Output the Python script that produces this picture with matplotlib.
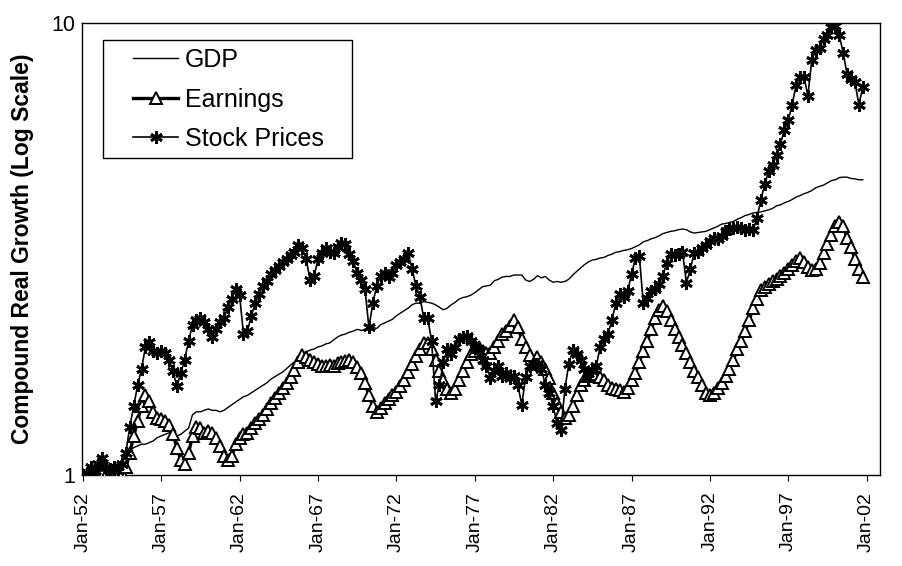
import matplotlib
matplotlib.use("Agg")
import matplotlib.pyplot as plt
from matplotlib.patches import Rectangle
import numpy as np

plt.rcParams['font.family'] = ['Liberation Sans', 'DejaVu Sans']

start_year = 1952
tick_years = [1952, 1957, 1962, 1967, 1972, 1977, 1982, 1987, 1992, 1997, 2002]
tick_labels = ["Jan-52", "Jan-57", "Jan-62", "Jan-67", "Jan-72", "Jan-77",
               "Jan-82", "Jan-87", "Jan-92", "Jan-97", "Jan-02"]

# quarterly values 1952Q1 .. 2001Q4
gdp = [
    1.00, 1.01, 1.02, 1.04,  1.06, 1.07, 1.07, 1.06,  1.05, 1.06, 1.08, 1.10,
    1.13, 1.15, 1.16, 1.17,  1.17, 1.18, 1.19, 1.21,  1.22, 1.23, 1.24, 1.24,
    1.22, 1.23, 1.25, 1.27,  1.36, 1.38, 1.38, 1.39,  1.40, 1.39, 1.39, 1.38,
    1.39, 1.41, 1.43, 1.45,  1.47, 1.49, 1.50, 1.52,  1.54, 1.56, 1.58, 1.60,
    1.63, 1.65, 1.67, 1.69,  1.72, 1.75, 1.78, 1.82,  1.85, 1.87, 1.89, 1.90,
    1.92, 1.93, 1.95, 1.96,  1.99, 2.02, 2.04, 2.05,  2.07, 2.08, 2.10, 2.09,
    2.09, 2.10, 2.12, 2.11,  2.15, 2.17, 2.19, 2.21,  2.25, 2.28, 2.31, 2.34,
    2.38, 2.40, 2.40, 2.42,  2.41, 2.40, 2.38, 2.35,  2.32, 2.34, 2.38, 2.41,
    2.45, 2.47, 2.48, 2.50,  2.53, 2.57, 2.61, 2.62,  2.63, 2.69, 2.71, 2.74,
    2.75, 2.75, 2.77, 2.77,  2.77, 2.70, 2.68, 2.71,  2.76, 2.73, 2.75, 2.70,
    2.67, 2.68, 2.67, 2.68,  2.71, 2.77, 2.82, 2.87,  2.92, 2.96, 2.99, 3.00,
    3.02, 3.03, 3.06, 3.08,  3.11, 3.12, 3.14, 3.15,  3.17, 3.20, 3.23, 3.28,
    3.30, 3.33, 3.35, 3.38,  3.42, 3.44, 3.46, 3.47,  3.49, 3.50, 3.49, 3.45,
    3.43, 3.44, 3.45, 3.46,  3.49, 3.52, 3.55, 3.59,  3.60, 3.62, 3.64, 3.68,
    3.71, 3.75, 3.77, 3.80,  3.81, 3.82, 3.84, 3.86,  3.89, 3.94, 3.96, 4.00,
    4.03, 4.07, 4.12, 4.15,  4.19, 4.22, 4.26, 4.32,  4.35, 4.38, 4.43, 4.48,
    4.50, 4.55, 4.56, 4.56,  4.53, 4.52, 4.50, 4.50,
]

earnings = [
    1.00, 0.99, 0.98, 0.99,  1.00, 1.01, 1.00, 0.99,  0.99, 1.00, 1.01, 1.04,
    1.12, 1.22, 1.32, 1.42,  1.50, 1.46, 1.38, 1.34,  1.33, 1.32, 1.29, 1.23,
    1.15, 1.08, 1.06, 1.12,  1.22, 1.28, 1.27, 1.24,  1.25, 1.24, 1.21, 1.16,
    1.10, 1.08, 1.10, 1.17,  1.21, 1.23, 1.24, 1.27,  1.30, 1.33, 1.36, 1.40,
    1.44, 1.48, 1.52, 1.56,  1.60, 1.65, 1.71, 1.78,  1.84, 1.82, 1.80, 1.78,
    1.76, 1.74, 1.74, 1.75,  1.74, 1.77, 1.78, 1.79,  1.80, 1.78, 1.73, 1.68,
    1.60, 1.50, 1.42, 1.38,  1.41, 1.44, 1.47, 1.50,  1.53, 1.57, 1.62, 1.69,
    1.76, 1.83, 1.90, 1.96,  1.96, 1.90, 1.80, 1.70,  1.62, 1.55, 1.52, 1.55,
    1.62, 1.70, 1.78, 1.85,  1.88, 1.92, 1.88, 1.86,  1.86, 1.92, 1.98, 2.05,
    2.08, 2.14, 2.20, 2.12,  2.00, 1.92, 1.84, 1.76,  1.82, 1.78, 1.72, 1.64,
    1.52, 1.44, 1.38, 1.34,  1.36, 1.42, 1.50, 1.58,  1.62, 1.66, 1.68, 1.67,
    1.65, 1.62, 1.58, 1.56,  1.55, 1.54, 1.53, 1.56,  1.62, 1.68, 1.78, 1.88,
    1.98, 2.10, 2.22, 2.32,  2.36, 2.30, 2.20, 2.10,  2.02, 1.94, 1.86, 1.78,
    1.70, 1.65, 1.58, 1.52,  1.50, 1.52, 1.56, 1.60,  1.66, 1.72, 1.80, 1.90,
    1.98, 2.08, 2.20, 2.34,  2.45, 2.56, 2.60, 2.64,  2.68, 2.72, 2.76, 2.80,
    2.86, 2.92, 2.98, 3.02,  2.96, 2.88, 2.84, 2.86,  2.95, 3.10, 3.25, 3.40,
    3.55, 3.62, 3.55, 3.35,  3.20, 3.00, 2.85, 2.74,
]

stock_prices = [
    1.00, 1.01, 1.04, 1.02,  1.06, 1.09, 1.04, 1.02,  1.04, 1.02, 1.06, 1.12,
    1.28, 1.42, 1.58, 1.72,  1.92, 1.97, 1.88, 1.86,  1.88, 1.86, 1.80, 1.70,
    1.57, 1.68, 1.80, 1.98,  2.15, 2.20, 2.22, 2.18,  2.10, 2.02, 2.10, 2.18,
    2.22, 2.35, 2.45, 2.58,  2.50, 2.05, 2.08, 2.25,  2.40, 2.52, 2.62, 2.68,
    2.78, 2.84, 2.90, 2.96,  3.00, 3.06, 3.12, 3.22,  3.18, 3.00, 2.70, 2.75,
    3.00, 3.10, 3.18, 3.12,  3.10, 3.20, 3.26, 3.24,  3.08, 2.98, 2.80, 2.70,
    2.58, 2.12, 2.40, 2.62,  2.76, 2.80, 2.74, 2.80,  2.92, 2.96, 3.00, 3.10,
    2.86, 2.62, 2.48, 2.22,  2.22, 1.98, 1.46, 1.58,  1.78, 1.90, 1.85, 1.92,
    2.00, 2.02, 2.03, 1.98,  1.92, 1.88, 1.80, 1.74,  1.64, 1.70, 1.74, 1.66,
    1.68, 1.64, 1.66, 1.58,  1.43, 1.65, 1.74, 1.76,  1.76, 1.72, 1.58, 1.52,
    1.42, 1.30, 1.26, 1.55,  1.76, 1.89, 1.85, 1.80,  1.72, 1.64, 1.70, 1.74,
    1.92, 2.00, 2.05, 2.20,  2.40, 2.52, 2.48, 2.55,  2.78, 3.02, 3.05, 2.40,
    2.46, 2.55, 2.58, 2.64,  2.76, 2.95, 3.08, 3.06,  3.08, 3.12, 2.66, 2.85,
    3.10, 3.12, 3.18, 3.22,  3.30, 3.35, 3.32, 3.38,  3.46, 3.50, 3.52, 3.54,
    3.52, 3.48, 3.50, 3.48,  3.70, 4.06, 4.40, 4.70,  4.85, 5.10, 5.40, 5.80,
    6.10, 6.60, 7.30, 7.60,  7.60, 6.90, 8.30, 8.70,  8.80, 9.20, 9.40, 9.80,
    9.85, 9.40, 8.60, 7.70,  7.50, 7.40, 6.60, 7.20,
]

x = start_year + np.arange(len(gdp)) / 4.0

fig = plt.figure(figsize=(9.02, 5.66), dpi=100)
ax = fig.add_axes([82/902, 1 - 475/566, (880-82)/902, (475-23)/566])

ax.plot(x, gdp, color='black', lw=1.0, label='GDP', zorder=2)
ax.plot(x, earnings, color='black', lw=2.4, marker='^', ms=8.5,
        mfc='white', mec='black', mew=1.4, label='Earnings', zorder=3)
ax.plot(x, stock_prices, color='black', lw=1.2, marker=(6, 2, 0), ms=9,
        mec='black', mew=2.0, label='Stock Prices', zorder=4)

ax.set_yscale('log')
ax.set_ylim(1, 10)
ax.set_xlim(1951.95, 2002.85)
ax.set_yticks([1, 10])
ax.set_yticklabels(['1', '10'], fontsize=15.5)
ax.yaxis.set_minor_locator(matplotlib.ticker.NullLocator())
ax.tick_params(axis='y', length=0, pad=5)
ax.set_xticks(tick_years)
ax.set_xticklabels(tick_labels, rotation=90, fontsize=14)
ax.tick_params(axis='x', direction='out', length=4, width=0.8, pad=8)
for s in ax.spines.values():
    s.set_linewidth(1.0)

ax.set_ylabel('Compound Real Growth (Log Scale)', fontsize=16.5,
              fontweight='bold', labelpad=12)

# legend frame drawn manually, legend entries without frame
ax.add_patch(Rectangle(((103-82)/798, (475-158)/452), (352-103)/798,
                       (158-40)/452, transform=ax.transAxes, fill=False,
                       ec='black', lw=1.0, zorder=5))
leg = ax.legend(loc='upper left', bbox_to_anchor=((133-82)/798, (475-48)/452),
                frameon=False, fontsize=18, borderpad=0, borderaxespad=0,
                handlelength=1.8, handletextpad=0.28, labelspacing=0.62,
                markerscale=1.0)
leg.set_zorder(6)

fig.savefig('out.png', dpi=100, facecolor='white')
